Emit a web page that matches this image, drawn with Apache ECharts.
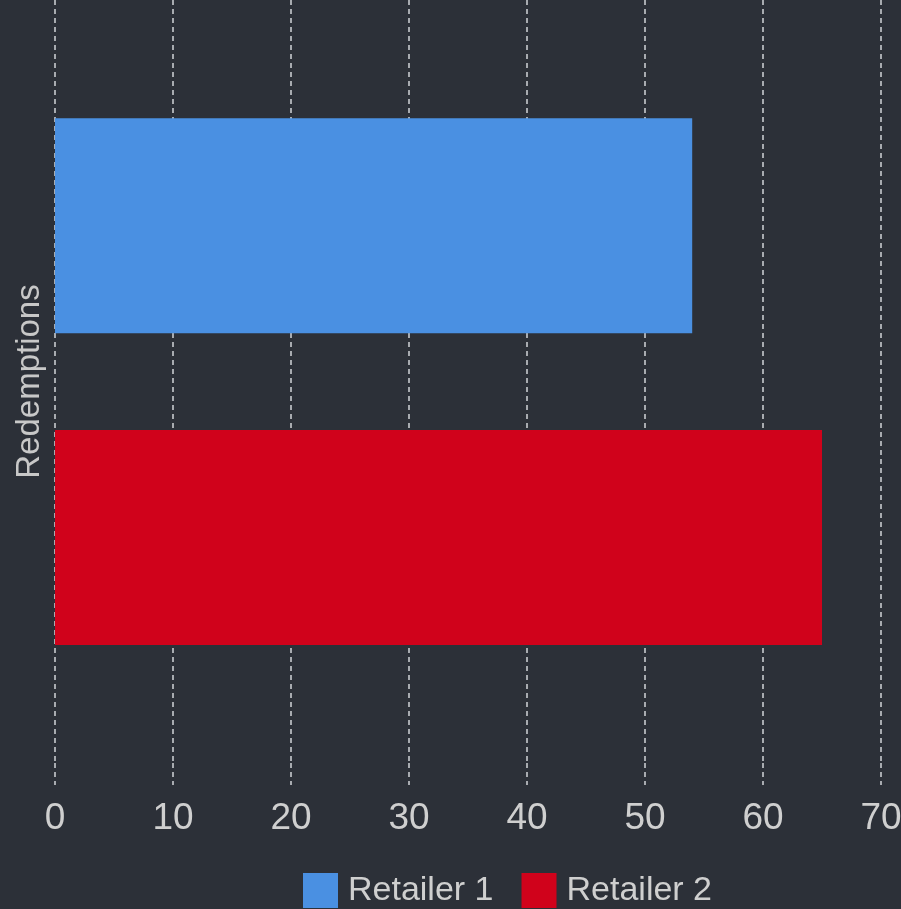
<!DOCTYPE html>
<html><head><meta charset="utf-8">
<script src="https://cdn.jsdelivr.net/npm/echarts@6/dist/echarts.min.js"></script>
<style>html,body{margin:0;padding:0;background:#2c3038;}#c{width:901px;height:909px;}</style>
</head><body><div id="c"></div>
<script>
var categories = ['Redemptions'];
var seriesNames = ['Retailer 1', 'Retailer 2'];
var retailer1 = [54];
var retailer2 = [65];
var xTicks = [0, 10, 20, 30, 40, 50, 60, 70];
var colors = ['#4a90e2', '#d0021b'];

var gridLine = {color: '#a8abb0', type: [5, 4], width: 2};
var chart = echarts.init(document.getElementById('c'));
chart.setOption({
  backgroundColor: '#2c3038',
  animation: false,
  textStyle: {fontFamily: 'Liberation Sans'},
  grid: {left: 55, right: 20, top: 0, bottom: 146, containLabel: false, outerBoundsMode: 'none'},
  legend: {
    data: seriesNames, top: 868, left: 298,
    itemWidth: 35, itemHeight: 35, itemGap: 28,
    icon: 'rect',
    textStyle: {color: '#cfcfcf', fontSize: 34, fontFamily: 'Liberation Sans', padding: [0, 0, 0, 5]}
  },
  xAxis: {
    type: 'value', min: xTicks[0], max: xTicks[xTicks.length - 1], interval: 10,
    axisLine: {show: false},
    axisTick: {show: true, length: 22, lineStyle: gridLine},
    axisLabel: {color: '#cfcfcf', fontSize: 37, margin: 37, fontFamily: 'Liberation Sans'},
    splitLine: {show: true, lineStyle: gridLine}
  },
  yAxis: {
    type: 'category', data: categories, inverse: true,
    axisLine: {show: false}, axisTick: {show: false}, axisLabel: {show: false},
    name: 'Redemptions', nameLocation: 'middle', nameGap: 9, nameRotate: 90,
    nameTextStyle: {color: '#c8c8c8', fontSize: 33}
  },
  series: [
    {name: seriesNames[0], type: 'bar', data: retailer1, barWidth: 215, barGap: '45%', itemStyle: {color: colors[0]}},
    {name: seriesNames[1], type: 'bar', data: retailer2, barWidth: 215, itemStyle: {color: colors[1]}}
  ]
});
</script></body></html>
